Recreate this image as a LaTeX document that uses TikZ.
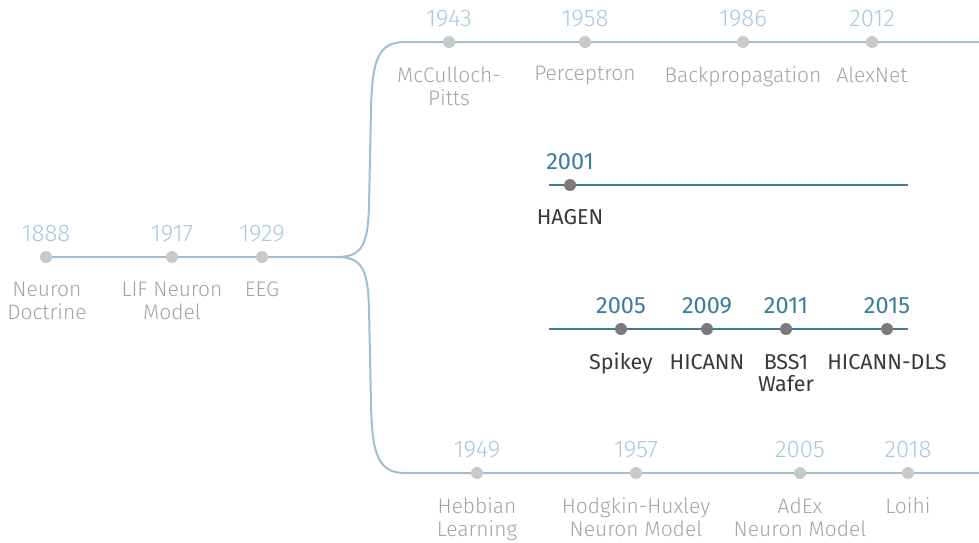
\documentclass[tikz,border=0pt]{standalone}
\usepackage{fontspec}
\setmainfont{Fira Sans}[UprightFont={* Light}]
\newfontfamily\regfont{Fira Sans}
\definecolor{lline}{HTML}{9DC0D3}
\definecolor{lyear}{HTML}{A7C9DB}
\definecolor{ldot}{HTML}{C9C9C9}
\definecolor{ltext}{HTML}{A3A3A3}
\definecolor{dline}{HTML}{3D7E9A}
\definecolor{dyear}{HTML}{3A7D9B}
\definecolor{ddot}{HTML}{7A7A7A}
\definecolor{dtext}{HTML}{383838}
\newcommand\tl[1]{\begin{tabular}[t]{@{}c@{}}#1\end{tabular}}
\begin{document}
\begin{tikzpicture}[x=1pt,y=-1pt,
  every node/.style={inner sep=0pt,outer sep=0pt},
  lyr/.style={anchor=base,text=lyear,font=\fontsize{24}{26}\selectfont},
  llb/.style={anchor=base,text=ltext,font=\fontsize{21}{23}\selectfont},
  dyr/.style={anchor=base,text=dyear,font=\regfont\fontsize{23.5}{26}\selectfont},
  dlb/.style={anchor=base,text=dtext,font=\regfont\fontsize{21.5}{22}\selectfont},
  ldt/.style={circle,fill=ldot,minimum size=12pt},
  ddt/.style={circle,fill=ddot,minimum size=12pt},
  lln/.style={draw=lline,line width=2pt},
  dln/.style={draw=dline,line width=2.2pt}]
\useasboundingbox (0,0) rectangle (979,542);
% coordinates
\coordinate (j) at (337,257);
\coordinate (tS) at (405,42);
\coordinate (tE) at (979,42);
\coordinate (bS) at (405,473);
\coordinate (bE) at (979,473);
\coordinate (h1S) at (549,185);
\coordinate (h1E) at (908,185);
\coordinate (h2S) at (549,329);
\coordinate (h2E) at (908,329);
% lines
\path[lln] (46,257) coordinate (m0) -- (j);
\path[lln] (j) .. controls (362,257) and (368,245) .. (369,205) -- (371,110) .. controls (372,60) and (378,42) .. (tS) -- (tE);
\path[lln] (j) .. controls (362,257) and (368,269) .. (369,309) -- (371,404) .. controls (372,454) and (378,473) .. (bS) -- (bE);
\path[dln] (h1S) -- (h1E);
\path[dln] (h2S) -- (h2E);
% left dots
\node[ldt] (d1888) at (46,257) {};
\node[ldt] (d1917) at (172,257) {};
\node[ldt] (d1929) at (262,257) {};
\node[lyr] (y1888) at (46,241) {1888};
\node[lyr] (y1917) at (172,241) {1917};
\node[lyr] (y1929) at (262,241) {1929};
\node[llb] (l1888) at (47,296) {\tl{Neuron\\Doctrine}};
\node[llb] (l1917) at (172,296) {\tl{LIF Neuron\\Model}};
\node[llb] (l1929) at (262,296) {EEG};
% top
\node[ldt] (d1943) at (449,42) {};
\node[ldt] (d1958) at (585,42) {};
\node[ldt] (d1986) at (743,42) {};
\node[ldt] (d2012) at (872,42) {};
\node[lyr] (y1943) at (449,26) {1943};
\node[lyr] (y1958) at (585,26) {1958};
\node[lyr] (y1986) at (743,26) {1986};
\node[lyr] (y2012) at (872,26) {2012};
\node[llb] (l1943) at (449,82) {\tl{McCulloch-\\Pitts}};
\node[llb] (l1958) at (585,80) {Perceptron};
\node[llb] (l1986) at (743,82) {Backpropagation};
\node[llb] (l2012) at (872,82) {AlexNet};
% HAGEN
\node[ddt] (d2001) at (570,185) {};
\node[dyr] (y2001) at (570,169) {2001};
\node[dlb] (l2001) at (570,224) {HAGEN};
% HW line 2
\node[ddt] (d2005h) at (621,329) {};
\node[ddt] (d2009) at (707,329) {};
\node[ddt] (d2011) at (786,329) {};
\node[ddt] (d2015) at (887,329) {};
\node[dyr] (y2005h) at (621,313) {2005};
\node[dyr] (y2009) at (707,313) {2009};
\node[dyr] (y2011) at (786,313) {2011};
\node[dyr] (y2015) at (887,313) {2015};
\node[dlb] (l2005h) at (621,369) {Spikey};
\node[dlb] (l2009) at (707,369) {HICANN};
\node[dlb] (l2011) at (786,369) {\tl{BSS1\\Wafer}};
\node[dlb] (l2015) at (887,369) {HICANN-DLS};
% bottom
\node[ldt] (d1949) at (477,473) {};
\node[ldt] (d1957) at (636,473) {};
\node[ldt] (d2005) at (800,473) {};
\node[ldt] (d2018) at (908,473) {};
\node[lyr] (y1949) at (477,457) {1949};
\node[lyr] (y1957) at (636,457) {1957};
\node[lyr] (y2005) at (800,457) {2005};
\node[lyr] (y2018) at (908,457) {2018};
\node[llb] (l1949) at (477,513) {\tl{Hebbian\\Learning}};
\node[llb] (l1957) at (636,513) {\tl{Hodgkin-Huxley\\Neuron Model}};
\node[llb] (l2005) at (800,513) {\tl{AdEx\\Neuron Model}};
\node[llb] (l2018) at (908,513) {Loihi};
\end{tikzpicture}
\end{document}
